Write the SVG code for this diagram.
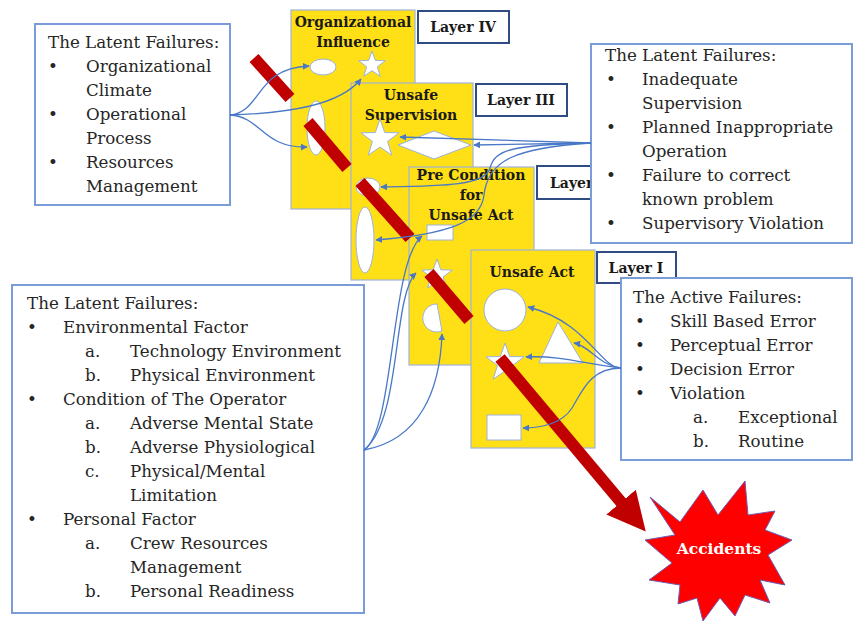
<svg xmlns="http://www.w3.org/2000/svg" width="854" height="624" viewBox="0 0 854 624">
<defs>
<style>
.panel{fill:#FFDF16;stroke:#9DB3DA;stroke-width:1.2}
.lbl{fill:#fff;stroke:#2F4B84;stroke-width:2}
.box{fill:#fff;stroke:#7A9CD8;stroke-width:2}
.sh{fill:#fff;stroke:#9DB3DA;stroke-width:1}
.bar{stroke:#C00000;stroke-width:12;stroke-linecap:butt}
.t{font-family:"DejaVu Serif","Liberation Serif",serif;font-size:16.7px;fill:#262626}
.b{font-family:"DejaVu Serif","Liberation Serif",serif;font-size:14px;font-weight:bold;fill:#1a1a1a;text-anchor:middle}
.c{fill:none;stroke:#4A78C8;stroke-width:1.3;marker-end:url(#ah)}
</style>
<marker id="ah" viewBox="0 0 10 10" refX="9" refY="5" markerWidth="7" markerHeight="7" markerUnits="userSpaceOnUse" orient="auto">
<path d="M0,0 L10,5 L0,10 z" fill="#4A78C8"/>
</marker>
<marker id="rh" viewBox="0 0 10 10" refX="2" refY="5" markerWidth="3.2" markerHeight="3.2" orient="auto">
<path d="M0,0 L10,5 L0,10 z" fill="#C00000"/>
</marker>
<clipPath id="clipL2"><rect x="530" y="160" width="60" height="45"/></clipPath>
</defs>
<rect width="854" height="624" fill="#fff"/>

<g id="layer4">
<rect class="panel" x="291" y="10" width="124" height="199"/>
<text class="b" x="353" y="27">Organizational</text>
<text class="b" x="353" y="47">Influence</text>
<ellipse class="sh" cx="323" cy="67" rx="13" ry="8"/>
<polygon class="sh" points="372,51 375.3,60.4 385.3,60.7 377.4,66.8 380.2,76.3 372,70.7 363.8,76.3 366.6,66.8 358.7,60.7 368.7,60.4"/>
<ellipse class="sh" cx="316" cy="128" rx="9" ry="27"/>
</g>
<g id="layer4-label">
<rect class="lbl" x="418" y="11" width="91" height="32"/>
<text class="b" x="463" y="32">Layer IV</text>
</g>

<g id="layer3">
<rect class="panel" x="351" y="83" width="122" height="197"/>
<text class="b" x="411" y="100">Unsafe</text>
<text class="b" x="411" y="120">Supervision</text>
<polygon class="sh" points="380,119 384.7,132.5 399,132.8 387.6,141.5 391.8,155.2 380,147 368.2,155.2 372.4,141.5 361,132.8 375.3,132.5"/>
<polygon class="sh" points="398,145 434,131 471,145 434,159"/>
<ellipse class="sh" cx="368" cy="187" rx="12" ry="9"/>
<ellipse class="sh" cx="365" cy="240" rx="9" ry="33"/>
</g>
<g id="layer3-label">
<rect class="lbl" x="476" y="84" width="91" height="32"/>
<text class="b" x="521" y="105">Layer III</text>
</g>

<g id="layer2">
<rect class="panel" x="409" y="167" width="125" height="198"/>
<text class="b" x="471" y="180">Pre Condition</text>
<text class="b" x="471" y="200">for</text>
<text class="b" x="471" y="220">Unsafe Act</text>
<rect class="sh" x="427" y="225" width="26" height="15"/>
<polygon class="sh" points="437,259 440.8,269.8 452.2,270.1 443.1,277 446.4,288 437,281.5 427.6,288 430.9,277 421.8,270.1 433.2,269.8"/>
<path class="sh" d="M437,304 L442,331 A14,14 0 1 1 437,304 Z"/>
</g>
<g id="layer2-label" clip-path="url(#clipL2)">
<rect class="lbl" x="537" y="166" width="70" height="33"/>
<text class="b" x="550" y="188" style="text-anchor:start">Layer II</text>
</g>

<g id="layer1">
<rect class="panel" x="471" y="250" width="124" height="198"/>
<text class="b" x="532" y="277">Unsafe Act</text>
<circle class="sh" cx="505" cy="310" r="21"/>
<polygon class="sh" points="558,322 583,363 539,363"/>
<polygon class="sh" points="505,343 509.7,356.5 524,356.8 512.6,365.5 516.8,379.2 505,371 493.2,379.2 497.4,365.5 486,356.8 500.3,356.5"/>
<rect class="sh" x="487" y="415" width="34" height="25"/>
</g>
<g id="layer1-label">
<rect class="lbl" x="597" y="252" width="79" height="31"/>
<text class="b" x="636" y="273">Layer I</text>
</g>

<g id="bars">
<line class="bar" x1="254" y1="58" x2="290" y2="98"/>
<line class="bar" x1="308" y1="122" x2="347" y2="168"/>
<line class="bar" x1="360" y1="182" x2="410" y2="238"/>
<line class="bar" x1="429" y1="273" x2="469" y2="320"/>
<line class="bar" x1="500" y1="358" x2="626" y2="508" marker-end="url(#rh)"/>
</g>

<g id="latent-org">
<rect class="box" x="35" y="24" width="195" height="181"/>
<text class="t" x="48" y="48">The Latent Failures:</text>
<text class="t" x="48" y="72">•</text><text class="t" x="86" y="72">Organizational</text>
<text class="t" x="86" y="96">Climate</text>
<text class="t" x="48" y="120">•</text><text class="t" x="86" y="120">Operational</text>
<text class="t" x="86" y="144">Process</text>
<text class="t" x="48" y="168">•</text><text class="t" x="86" y="168">Resources</text>
<text class="t" x="86" y="192">Management</text>
</g>

<g id="latent-sup">
<rect class="box" x="591" y="44" width="261" height="199"/>
<text class="t" x="605" y="61">The Latent Failures:</text>
<text class="t" x="606" y="85">•</text><text class="t" x="642" y="85">Inadequate</text>
<text class="t" x="642" y="109">Supervision</text>
<text class="t" x="606" y="133">•</text><text class="t" x="642" y="133">Planned Inappropriate</text>
<text class="t" x="642" y="157">Operation</text>
<text class="t" x="606" y="181">•</text><text class="t" x="642" y="181">Failure to correct</text>
<text class="t" x="642" y="205">known problem</text>
<text class="t" x="606" y="229">•</text><text class="t" x="642" y="229">Supervisory Violation</text>
</g>

<g id="active">
<rect class="box" x="621" y="278" width="231" height="182"/>
<text class="t" x="633" y="303">The Active Failures:</text>
<text class="t" x="635" y="327">•</text><text class="t" x="670" y="327">Skill Based Error</text>
<text class="t" x="635" y="351">•</text><text class="t" x="670" y="351">Perceptual Error</text>
<text class="t" x="635" y="375">•</text><text class="t" x="670" y="375">Decision Error</text>
<text class="t" x="635" y="399">•</text><text class="t" x="670" y="399">Violation</text>
<text class="t" x="693" y="423">a.</text><text class="t" x="738" y="423">Exceptional</text>
<text class="t" x="693" y="447">b.</text><text class="t" x="738" y="447">Routine</text>
</g>

<g id="latent-pre">
<rect class="box" x="12" y="285" width="352" height="328"/>
<text class="t" x="27" y="309">The Latent Failures:</text>
<text class="t" x="27" y="333">•</text><text class="t" x="63" y="333">Environmental Factor</text>
<text class="t" x="85" y="357">a.</text><text class="t" x="130" y="357">Technology Environment</text>
<text class="t" x="85" y="381">b.</text><text class="t" x="130" y="381">Physical Environment</text>
<text class="t" x="27" y="405">•</text><text class="t" x="63" y="405">Condition of The Operator</text>
<text class="t" x="85" y="429">a.</text><text class="t" x="130" y="429">Adverse Mental State</text>
<text class="t" x="85" y="453">b.</text><text class="t" x="130" y="453">Adverse Physiological</text>
<text class="t" x="85" y="477">c.</text><text class="t" x="130" y="477">Physical/Mental</text>
<text class="t" x="130" y="501">Limitation</text>
<text class="t" x="27" y="525">•</text><text class="t" x="63" y="525">Personal Factor</text>
<text class="t" x="85" y="549">a.</text><text class="t" x="130" y="549">Crew Resources</text>
<text class="t" x="130" y="573">Management</text>
<text class="t" x="85" y="597">b.</text><text class="t" x="130" y="597">Personal Readiness</text>
</g>

<g id="accidents">
<polygon points="650,497 680,522 703,490 718,515 745,481 748,515 775,511 765,530 792,540 768,555 785,585 760,580 770,603 745,595 735,616 720,598 703,621 697,598 678,604 680,585 649,580 672,563 645,540 675,535" fill="#FF0000" stroke="#6E5BB0" stroke-width="1"/>
<text x="719" y="554" style="font-family:'DejaVu Serif','Liberation Serif',serif;font-size:15.5px;font-weight:bold;fill:#fff;text-anchor:middle">Accidents</text>
</g>

<g id="connectors">
<path class="c" d="M230,115 C262,112 255,68 309,66"/>
<path class="c" d="M230,115 C290,113 340,105 361,79"/>
<path class="c" d="M230,115 C262,117 262,148 307,147"/>
<path class="c" d="M591,143 L400,137"/>
<path class="c" d="M591,143 L474,145"/>
<path class="c" d="M591,143 C510,145 495,150 490,168 C486,186 440,186 381,187"/>
<path class="c" d="M591,143 C515,148 488,160 484,195 C481,222 450,234 376,240"/>
<path class="c" d="M364,450 C395,430 390,262 422,236"/>
<path class="c" d="M364,450 C402,420 392,296 416,273"/>
<path class="c" d="M364,450 C420,440 440,390 442,334"/>
<path class="c" d="M621,368 C600,368 588,322 528,307"/>
<path class="c" d="M621,368 C600,366 590,346 574,343"/>
<path class="c" d="M621,368 C590,365 560,355 526,357"/>
<path class="c" d="M621,368 C590,368 582,392 572,408 C562,424 540,428 523,428"/>
</g>
</svg>
